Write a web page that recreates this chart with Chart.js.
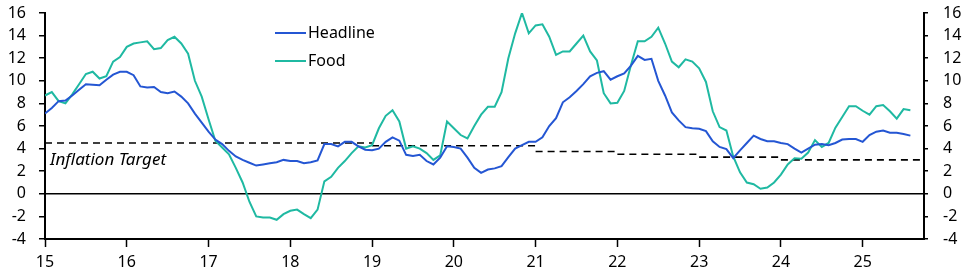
<!DOCTYPE html>
<html>
<head>
<meta charset="utf-8">
<script src="https://cdn.jsdelivr.net/npm/chart.js@4.4.1/dist/chart.umd.min.js"></script>
<style>
  html, body { margin: 0; padding: 0; background: #fff; }
  #wrap { width: 971px; height: 278px; position: relative; }
</style>
</head>
<body>
<div id="wrap"><canvas id="grafico" width="971" height="278"></canvas></div>
<script>
// monthly data, Jan 2015 onwards (y/y %)
const startYear = 15;
const headline = [
  7.1, 7.6, 8.2, 8.25, 8.7, 9.2, 9.7, 9.65, 9.6, 10.1,
  10.55, 10.8, 10.8, 10.5, 9.5, 9.4, 9.45, 9.0, 8.9, 9.05,
  8.6, 8.0, 7.1, 6.3, 5.5, 4.8, 4.4, 3.8, 3.3, 3.0,
  2.75, 2.5, 2.6, 2.7, 2.8, 3.0, 2.9, 2.9, 2.7, 2.8,
  2.95, 4.4, 4.4, 4.2, 4.6, 4.6, 4.2, 3.9, 3.85, 4.0,
  4.6, 5.0, 4.7, 3.45, 3.35, 3.45, 2.9, 2.6, 3.2, 4.2,
  4.15, 4.0, 3.2, 2.3, 1.85, 2.15, 2.25, 2.45, 3.25, 4.0,
  4.3, 4.6, 4.6, 5.0, 6.0, 6.7, 8.1, 8.55, 9.1, 9.7,
  10.4, 10.7, 10.85, 10.1, 10.4, 10.65, 11.35, 12.2, 11.85, 11.95,
  10.0, 8.7, 7.2, 6.5, 5.9, 5.8, 5.75, 5.55, 4.65, 4.15,
  3.95, 3.15, 3.85, 4.5, 5.15, 4.85, 4.65, 4.65, 4.5, 4.4,
  4.0, 3.65, 4.0, 4.35, 4.4, 4.3, 4.5, 4.8, 4.85, 4.85,
  4.6, 5.2, 5.5, 5.6, 5.4, 5.4, 5.3, 5.15
];
const food = [
  8.7, 9.0, 8.2, 8.0, 8.8, 9.7, 10.6, 10.8, 10.2, 10.4,
  11.7, 12.1, 13.0, 13.3, 13.4, 13.5, 12.8, 12.9, 13.6, 13.9,
  13.3, 12.4, 10.0, 8.6, 6.6, 4.7, 4.1, 3.5, 2.3, 1.0,
  -0.7, -2.0, -2.1, -2.1, -2.3, -1.8, -1.5, -1.4, -1.8, -2.15,
  -1.4, 1.1, 1.5, 2.3, 2.9, 3.6, 4.2, 4.1, 4.3, 5.8,
  6.9, 7.4, 6.4, 4.0, 4.2, 4.0, 3.6, 3.0, 3.4, 6.4,
  5.8, 5.2, 4.9, 6.0, 7.0, 7.7, 7.7, 9.0, 12.0, 14.2,
  16.0, 14.2, 14.9, 15.0, 13.9, 12.3, 12.6, 12.6, 13.3, 14.0,
  12.6, 11.8, 8.9, 8.0, 8.05, 9.1, 11.4, 13.5, 13.5, 13.9,
  14.7, 13.3, 11.7, 11.2, 11.9, 11.7, 11.1, 9.9, 7.3, 5.9,
  5.6, 3.3, 1.9, 1.0, 0.85, 0.45, 0.55, 1.0, 1.7, 2.6,
  3.15, 3.1, 3.65, 4.75, 4.15, 4.5, 5.85, 6.8, 7.75, 7.75,
  7.35, 7.0, 7.75, 7.85, 7.3, 6.65, 7.5, 7.4
];
// inflation target: value from each start year until the next one
const targetYears = [15, 19, 21, 22, 23, 24];
const targetValues = [4.5, 4.25, 3.75, 3.5, 3.25, 3.0];
const xMin = 15, xMax = 25.75;
const yTicks = [-4, -2, 0, 2, 4, 6, 8, 10, 12, 14, 16];

const FONT = '"Noto Sans", "Open Sans", sans-serif';
const corAzul = '#2456d3';
const corVerde = '#1fb9a2';

function serie(valores) {
  return valores.map((v, i) => ({ x: startYear + i / 12, y: v }));
}

function serieMeta() {
  const pts = [];
  targetYears.forEach((ano, i) => {
    const fim = i + 1 < targetYears.length ? targetYears[i + 1] : xMax;
    pts.push({ x: ano, y: targetValues[i] });
    pts.push({ x: fim, y: targetValues[i] });
    pts.push({ x: fim, y: null });
  });
  return pts;
}

// legend + label drawn inside the plot
const textos = {
  id: 'textos',
  afterDatasetsDraw(chart) {
    const ctx = chart.ctx;
    ctx.save();
    ctx.font = '16px ' + FONT;
    ctx.textBaseline = 'middle';
    ctx.fillStyle = '#000';
    const itens = [['Headline', corAzul, 33], ['Food', corVerde, 61]];
    itens.forEach(([nome, cor, y]) => {
      ctx.strokeStyle = cor;
      ctx.lineWidth = 2;
      ctx.beginPath();
      ctx.moveTo(275, y);
      ctx.lineTo(306, y);
      ctx.stroke();
      ctx.fillText(nome, 308, y);
    });
    ctx.font = 'italic 17px ' + FONT;
    ctx.fillText('Inflation Target', 50, 160);
    ctx.restore();
  }
};

const eixoY = (pos) => ({
  type: 'linear',
  position: pos,
  min: -4,
  max: 16,
  afterBuildTicks: (s) => { s.ticks = yTicks.map(v => ({ value: v })); },
  afterFit: (s) => { s.width = 38; s.paddingTop = 0; s.paddingBottom = 0; },
  border: { display: true, color: '#000', width: 2 },
  grid: {
    drawOnChartArea: pos === 'left',
    drawTicks: true,
    tickLength: pos === 'left' ? 6 : 4,
    tickColor: '#000',
    tickWidth: 1.5,
    color: (c) => (c.tick && c.tick.value === 0 ? '#000' : 'rgba(0,0,0,0)'),
    lineWidth: 1.5
  },
  ticks: {
    color: '#000',
    autoSkip: false,
    font: { family: FONT, size: 16 },
    padding: pos === 'left' ? 13 : 15,
    callback: (v) => v
  }
});

new Chart(document.getElementById('grafico').getContext('2d'), {
  type: 'line',
  data: {
    datasets: [
      { label: 'Headline', data: serie(headline), borderColor: corAzul, borderWidth: 2, order: 0 },
      { label: 'Food', data: serie(food), borderColor: corVerde, borderWidth: 2, order: 1 },
      { label: 'Inflation Target', data: serieMeta(), borderColor: '#000', borderWidth: 1.6,
        borderDash: [7, 5], spanGaps: false, order: 2 }
    ]
  },
  options: {
    responsive: false,
    animation: false,
    layout: { padding: { left: 7, right: 9, top: 13, bottom: 7 } },
    elements: { point: { radius: 0 }, line: { tension: 0, fill: false } },
    plugins: { legend: { display: false }, tooltip: { enabled: false } },
    scales: {
      x: {
        type: 'linear',
        min: xMin,
        max: xMax,
        afterFit: (s) => { s.height = 32; },
        border: { display: true, color: '#000', width: 2 },
        grid: { drawOnChartArea: false, drawTicks: true, tickLength: 8, tickColor: '#000', tickWidth: 1.5 },
        ticks: {
          stepSize: 1,
          includeBounds: false,
          color: '#000',
          maxRotation: 0,
          autoSkip: false,
          padding: 6,
          font: { family: FONT, size: 16 },
          callback: (v) => v
        }
      },
      y: eixoY('left'),
      y2: eixoY('right')
    }
  },
  plugins: [textos]
});
</script>
</body>
</html>
